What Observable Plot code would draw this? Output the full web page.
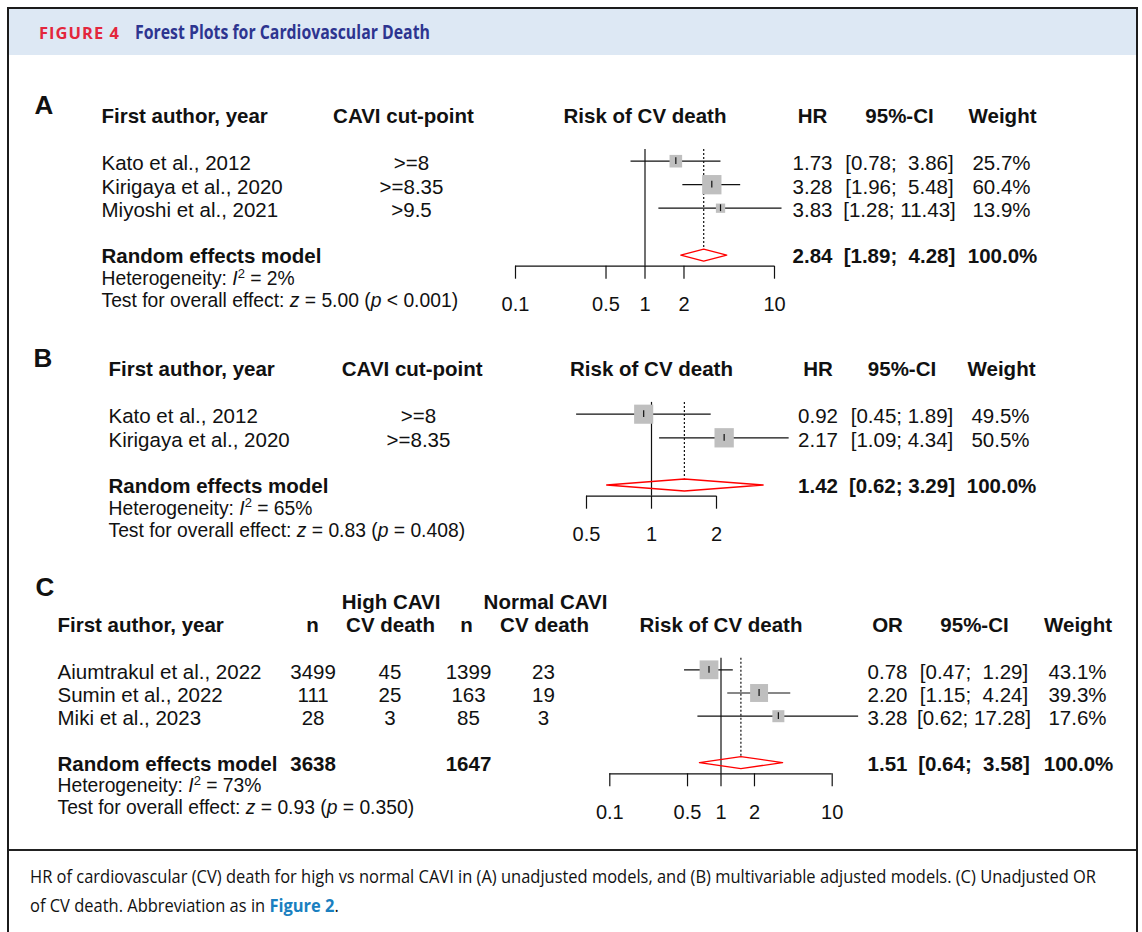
<!DOCTYPE html>
<html>
<head>
<meta charset="utf-8">
<script src="https://cdn.jsdelivr.net/npm/d3@7"></script>
<script src="https://cdn.jsdelivr.net/npm/@observablehq/plot@0.6"></script>
<style>
html,body{margin:0;padding:0;background:#fff;}
#fig{position:relative;width:1142px;height:932px;overflow:hidden;background:#fff;}
#band{position:absolute;left:9px;top:9px;width:1127px;height:46px;background:#dde8f4;}
#frame{position:absolute;left:7px;top:7px;width:1131px;height:980px;border:2px solid #1b1b1b;box-sizing:border-box;}
.hd{position:absolute;white-space:nowrap;font-family:"Open Sans",sans-serif;font-weight:700;line-height:20px;transform-origin:0 0;}
#sep{position:absolute;left:9px;top:849px;width:1127px;height:2px;background:#222;}
.cap{position:absolute;left:30px;white-space:nowrap;font-family:"Open Sans",sans-serif;font-size:18.5px;line-height:20px;color:#111;transform-origin:0 0;}
.cap b{color:#1a7fc0;}
.panel{position:absolute;left:0;}
.panel svg{display:block;overflow:visible;}
.panel svg text{white-space:pre;}
</style>
</head>
<body>
<div id="fig">
  <div id="band"></div>
  <div id="frame"></div>
  <div class="hd" id="fignum" style="left:39px;top:23px;font-size:16px;color:#e3263c;letter-spacing:1px">FIGURE 4</div>
  <div class="hd" id="figtitle" style="left:135px;top:22px;font-size:19px;color:#2d3590">Forest Plots for Cardiovascular Death</div>
  <div id="pA" class="panel" style="top:60px"></div>
  <div id="pB" class="panel" style="top:330px"></div>
  <div id="pC" class="panel" style="top:560px"></div>
  <div id="sep"></div>
  <div class="cap" id="cap1" style="top:866px">HR of cardiovascular (CV) death for high vs normal CAVI in (A) unadjusted models, and (B) multivariable adjusted models. (C) Unadjusted OR</div>
  <div class="cap" id="cap2" style="top:895px">of CV death. Abbreviation as in <b>Figure 2</b>.</div>
</div>
<script>
// ---------------- data ----------------
const pooledLabel = "Random effects model";
const riskLabel = "Risk of CV death";

// Panel A: unadjusted HR
const studyA = ["Kato et al., 2012", "Kirigaya et al., 2020", "Miyoshi et al., 2021"];
const cutA = [">=8", ">=8.35", ">9.5"];
const hrA = [1.73, 3.28, 3.83];
const loA = [0.78, 1.96, 1.28];
const hiA = [3.86, 5.48, 11.43];
const wA = [25.7, 60.4, 13.9];
const pooledA = [2.84, 1.89, 4.28];
const i2A = 2, zA = 5.00, pA = "< 0.001";
const ticksA = [0.1, 0.5, 1, 2, 10];
const headA = ["First author, year", "CAVI cut-point", "HR", "95%-CI", "Weight"];

// Panel B: multivariable adjusted HR
const studyB = ["Kato et al., 2012", "Kirigaya et al., 2020"];
const cutB = [">=8", ">=8.35"];
const hrB = [0.92, 2.17];
const loB = [0.45, 1.09];
const hiB = [1.89, 4.34];
const wB = [49.5, 50.5];
const pooledB = [1.42, 0.62, 3.29];
const i2B = 65, zB = 0.83, pB = "= 0.408";
const ticksB = [0.5, 1, 2];
const headB = ["First author, year", "CAVI cut-point", "HR", "95%-CI", "Weight"];

// Panel C: unadjusted OR
const studyC = ["Aiumtrakul et al., 2022", "Sumin et al., 2022", "Miki et al., 2023"];
const nHighC = [3499, 111, 28];
const evHighC = [45, 25, 3];
const nNormC = [1399, 163, 85];
const evNormC = [23, 19, 3];
const orC = [0.78, 2.20, 3.28];
const loC = [0.47, 1.15, 0.62];
const hiC = [1.29, 4.24, 17.28];
const wC = [43.1, 39.3, 17.6];
const pooledC = [1.51, 0.64, 3.58];
const i2C = 73, zC = 0.93, pC = "= 0.350";
const ticksC = [0.1, 0.5, 1, 2, 10];
const groupC = ["High CAVI", "Normal CAVI"];
const headC = ["First author, year", "n", "CV death", "n", "CV death", "OR", "95%-CI", "Weight"];

// ---------------- helpers ----------------
const INK = "#111";
const FONT = '"Liberation Sans", Arial, Helvetica, sans-serif';
const FS = 20.5, FS_HET = 19.3;
const at = v => () => v;
const txt = (data, o) => Plot.text(data, {frameAnchor: "left", textAnchor: "middle", fontSize: FS, fill: INK, dy: 2.5, ...o});
const B = {fontWeight: "bold"};
const f2 = v => v.toFixed(2);
const pct = v => v.toFixed(1) + "%";
const hetStr = i2 => `Heterogeneity: I2 = ${i2}%`;
const testStr = (z, p) => `Test for overall effect: z = ${z.toFixed(2)} (p ${p})`;

function ciStrings(lo, hi, pooled) {
  const los = [...lo, pooled[1]].map(f2), his = [...hi, pooled[2]].map(f2);
  const wl = d3.max(los, s => s.length), wh = d3.max(his, s => s.length);
  return los.map((l, i) => `[${l.padStart(wl)}; ${his[i].padStart(wh)}]`);
}
function makeRows(names, est, lo, hi, w, pooled, extra = {}) {
  const ci = ciStrings(lo, hi, pooled);
  const rows = names.map((s, i) => {
    const r = {row: i + 1, author: s, est: est[i], lo: lo[i], hi: hi[i], w: w[i], ci: ci[i]};
    for (const k in extra) r[k] = extra[k][i];
    return r;
  });
  const pool = {est: pooled[0], lo: pooled[1], hi: pooled[2], ci: ci[ci.length - 1]};
  return {rows, pool};
}
function enrich(svg, i2, z, p) {
  const specs = [
    [hetStr(i2), [["Heterogeneity: ", ""], ["I", "i"], ["2", "sup"], [` = ${i2}%`, "after"]]],
    [testStr(z, p), [["Test for overall effect: ", ""], ["z", "i"], [` = ${z.toFixed(2)} (`, ""], ["p", "i"], [` ${p})`, ""]]]
  ];
  for (const [str, parts] of specs) {
    d3.select(svg).selectAll("text").filter(function () { return this.textContent === str; }).each(function () {
      const t = d3.select(this);
      t.text(null);
      for (const [s, kind] of parts) {
        const sp = t.append("tspan").text(s);
        if (kind === "i") sp.attr("font-style", "italic");
        if (kind === "sup") sp.attr("font-size", 13).attr("dy", -7.5);
        if (kind === "after") sp.attr("dy", 7.5);
      }
    });
  }
}

function forest(el, cfg) {
  const {top, height, row1Y, pitch, axisY, xDomain, xRange, ticks, rows, pool, maxR, texts, letter, i2, z, p} = cfg;
  const reRow = rows.length + 2;
  const axisRow = 1 + (axisY - row1Y) / pitch;
  const dh = 6 / pitch, th = 3.4 / pitch;
  const diamond = [
    {x: pool.lo, y: reRow}, {x: pool.est, y: reRow - dh}, {x: pool.hi, y: reRow},
    {x: pool.est, y: reRow + dh}, {x: pool.lo, y: reRow}
  ];
  const svg = Plot.plot({
    width: 1142, height,
    marginTop: 0, marginLeft: 0, marginRight: 0, marginBottom: height - (axisY - top),
    x: {type: "log", domain: xDomain, range: xRange},
    y: {domain: [1, 2], range: [row1Y - top, row1Y - top + pitch], axis: null},
    r: {type: "sqrt", domain: [0, d3.max(rows, d => d.w)], range: [0, maxR]},
    style: {fontFamily: FONT, fontSize: "20px", color: INK, background: "transparent", overflow: "visible"},
    marks: [
      Plot.ruleY([axisRow], {x1: d3.min(ticks), x2: d3.max(ticks), stroke: INK, strokeWidth: 1.2}),
      Plot.axisX({ticks, tickSize: 13, tickPadding: 18, tickFormat: d => String(d), label: null, strokeWidth: 1.2}),
      Plot.ruleX([1], {y1: at(0.5), y2: at(axisRow), stroke: INK, strokeWidth: 1.2}),
      Plot.ruleX([pool.est], {y1: at(0.5), y2: at(reRow - dh), stroke: INK, strokeWidth: 1.2, strokeDasharray: "2,2"}),
      Plot.ruleY(rows, {y: "row", x1: "lo", x2: "hi", stroke: INK, strokeWidth: 1.2}),
      Plot.dot(rows, {x: "est", y: "row", r: "w", symbol: "square", fill: "#bfbfbf", stroke: null}),
      Plot.ruleX(rows, {x: "est", y1: d => d.row - th, y2: d => d.row + th, stroke: INK, strokeWidth: 1.2}),
      Plot.line(diamond, {x: "x", y: "y", stroke: "#ff0000", strokeWidth: 1.3}),
      Plot.text([letter.label], {frameAnchor: "top-left", dx: letter.dx, dy: letter.dy, fontSize: 26, fontWeight: "bold", fill: INK, textAnchor: "start"}),
      Plot.text([riskLabel], {x: at(1), y: at(-1), fontSize: FS, fill: INK, dy: 2.5, textAnchor: "middle", ...B}),
      txt([hetStr(i2)], {y: at(reRow + 0.9), dx: cfg.leftX, textAnchor: "start", fontSize: FS_HET}),
      txt([testStr(z, p)], {y: at(reRow + 1.85), dx: cfg.leftX, textAnchor: "start", fontSize: FS_HET}),
      txt([pooledLabel], {y: at(reRow), dx: cfg.leftX, textAnchor: "start", dy: 1.5, ...B}),
      ...texts(reRow)
    ]
  });
  el.appendChild(svg);
  enrich(svg, i2, z, p);
}

// layout for panels A and B
function abTexts(head, rows, pool, X) {
  return re => [
    txt([head[0]], {y: at(-1), dx: X.left, textAnchor: "start", ...B}),
    txt([head[1]], {y: at(-1), dx: X.cutH, ...B}),
    txt([head[2]], {y: at(-1), dx: X.est, ...B}),
    txt([head[3]], {y: at(-1), dx: X.ci, ...B}),
    txt([head[4]], {y: at(-1), dx: X.wH, ...B}),
    txt(rows, {y: "row", text: "author", dx: X.left, textAnchor: "start"}),
    txt(rows, {y: "row", text: "cut", dx: X.cut}),
    txt(rows, {y: "row", text: d => f2(d.est), dx: X.est}),
    txt(rows, {y: "row", text: "ci", dx: X.ci}),
    txt(rows, {y: "row", text: d => pct(d.w), dx: X.w}),
    txt([pool], {y: at(re), text: d => f2(d.est), dx: X.est, dy: 1.5, ...B}),
    txt([pool], {y: at(re), text: "ci", dx: X.ci, dy: 1.5, ...B}),
    txt([pool], {y: at(re), text: () => pct(d3.sum(rows, r => r.w)), dx: X.wH, dy: 1.5, ...B})
  ];
}

// ---------------- Panel A ----------------
const A = makeRows(studyA, hrA, loA, hiA, wA, pooledA, {cut: cutA});
forest(document.getElementById("pA"), {
  top: 60, height: 262, row1Y: 160.7, pitch: 23.5, axisY: 265.7,
  xDomain: [0.1, 10], xRange: [515, 774], ticks: ticksA,
  rows: A.rows, pool: A.pool, maxR: 10.9, leftX: 101,
  letter: {label: "A", dx: 34, dy: 35},
  i2: i2A, z: zA, p: pA,
  texts: abTexts(headA, A.rows, A.pool, {left: 101, cutH: 403, cut: 411, est: 812, ci: 899, wH: 1002, w: 1001})
});

// ---------------- Panel B ----------------
const Bd = makeRows(studyB, hrB, loB, hiB, wB, pooledB, {cut: cutB});
forest(document.getElementById("pB"), {
  top: 330, height: 222, row1Y: 413.7, pitch: 23.6, axisY: 495.7,
  xDomain: [0.5, 2], xRange: [586, 716], ticks: ticksB,
  rows: Bd.rows, pool: Bd.pool, maxR: 10.9, leftX: 108,
  letter: {label: "B", dx: 33, dy: 18},
  i2: i2B, z: zB, p: pB,
  texts: abTexts(headB, Bd.rows, Bd.pool, {left: 108, cutH: 411.7, cut: 418, est: 817.5, ci: 901.5, wH: 1001, w: 1000})
});

// ---------------- Panel C ----------------
const C = makeRows(studyC, orC, loC, hiC, wC, pooledC, {nH: nHighC, eH: evHighC, nN: nNormC, eN: evNormC});
forest(document.getElementById("pC"), {
  top: 560, height: 272, row1Y: 669.3, pitch: 23.2, axisY: 773.3,
  xDomain: [0.1, 10], xRange: [609.3, 831.7], ticks: ticksC,
  rows: C.rows, pool: C.pool, maxR: 10.6, leftX: 57,
  letter: {label: "C", dx: 35, dy: 17},
  i2: i2C, z: zC, p: pC,
  texts: re => [
    txt([groupC[0]], {y: at(-2), dx: 390.5, ...B}),
    txt([groupC[1]], {y: at(-2), dx: 545, ...B}),
    txt([headC[0]], {y: at(-1), dx: 57, textAnchor: "start", ...B}),
    txt([headC[1]], {y: at(-1), dx: 312, ...B}),
    txt([headC[2]], {y: at(-1), dx: 390, ...B}),
    txt([headC[3]], {y: at(-1), dx: 466, ...B}),
    txt([headC[4]], {y: at(-1), dx: 544, ...B}),
    txt([headC[5]], {y: at(-1), dx: 887, ...B}),
    txt([headC[6]], {y: at(-1), dx: 974, ...B}),
    txt([headC[7]], {y: at(-1), dx: 1077.5, ...B}),
    txt(C.rows, {y: "row", text: "author", dx: 57, textAnchor: "start"}),
    txt(C.rows, {y: "row", text: d => String(d.nH), dx: 312.6}),
    txt(C.rows, {y: "row", text: d => String(d.eH), dx: 389.5}),
    txt(C.rows, {y: "row", text: d => String(d.nN), dx: 468}),
    txt(C.rows, {y: "row", text: d => String(d.eN), dx: 543}),
    txt(C.rows, {y: "row", text: d => f2(d.est), dx: 887}),
    txt(C.rows, {y: "row", text: "ci", dx: 973.5}),
    txt(C.rows, {y: "row", text: d => pct(d.w), dx: 1077}),
    txt([d3.sum(nHighC)], {y: at(re), text: d => String(d), dx: 312.6, dy: 1.5, ...B}),
    txt([d3.sum(nNormC)], {y: at(re), text: d => String(d), dx: 468, dy: 1.5, ...B}),
    txt([C.pool], {y: at(re), text: d => f2(d.est), dx: 887, dy: 1.5, ...B}),
    txt([C.pool], {y: at(re), text: "ci", dx: 973.5, dy: 1.5, ...B}),
    txt([C.pool], {y: at(re), text: () => pct(d3.sum(C.rows, r => r.w)), dx: 1078, dy: 1.5, ...B})
  ]
});

// ---------------- header / caption fitting ----------------
function fit() {
  const fitTo = (el, w) => { el.style.transform = "none"; const cur = el.getBoundingClientRect().width; return w / cur; };
  const n = document.getElementById("fignum"), t = document.getElementById("figtitle");
  const sn = fitTo(n, 81); n.style.transform = `scaleX(${sn})`;
  const st = fitTo(t, 295); t.style.transform = `scaleX(${st})`;
  const c1 = document.getElementById("cap1"), c2 = document.getElementById("cap2");
  const sc = fitTo(c1, 1066); c1.style.transform = `scaleX(${sc})`; c2.style.transform = `scaleX(${sc})`;
}
fit();
if (document.fonts && document.fonts.ready) document.fonts.ready.then(fit);
</script>
</body>
</html>
